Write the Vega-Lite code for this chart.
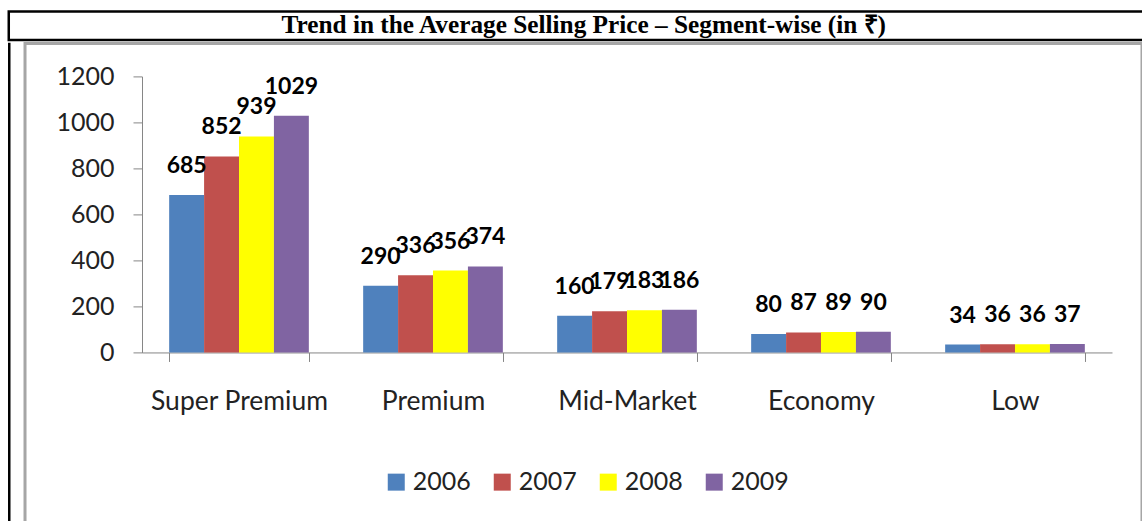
{
  "$schema": "https://vega.github.io/schema/vega-lite/v6.json",
  "padding": {"left": 6.75, "top": 9.4, "right": 0, "bottom": 0},
  "background": "white",
  "spacing": 0,
  "config": {"concat": {"spacing": 0}, "view": {"stroke": null}, "font": "Lato"},
  "vconcat": [
    {
      "width": 1150,
      "height": 28.5,
      "view": {"stroke": "black", "strokeWidth": 2.5},
      "data": {"values": [{"t": "Trend in the Average Selling Price – Segment-wise (in ₹)"}]},
      "mark": {"type": "text", "font": "Liberation Serif", "fontWeight": "bold", "fontSize": 25.3, "baseline": "alphabetic", "align": "center", "dx": 0, "dy": 7.5, "color": "black"},
      "encoding": {"text": {"field": "t", "type": "nominal"}}
    },
    {
      "spacing": 12.25,
      "hconcat": [
        {
          "width": 1,
          "height": 484,
          "view": {"stroke": "black", "strokeWidth": 1.5},
          "data": {"values": [{"t": ""}]},
          "mark": {"type": "text"},
          "encoding": {"text": {"field": "t", "type": "nominal"}}
        },
        {
          "width": 1117,
          "height": 483.25,
          "view": {"stroke": "#a6a6a6", "strokeWidth": 3},
          "data": {
            "values": [
              {"segment": "Super Premium", "year": "2006", "price": 685},
              {"segment": "Super Premium", "year": "2007", "price": 852},
              {"segment": "Super Premium", "year": "2008", "price": 939},
              {"segment": "Super Premium", "year": "2009", "price": 1029},
              {"segment": "Premium", "year": "2006", "price": 290},
              {"segment": "Premium", "year": "2007", "price": 336},
              {"segment": "Premium", "year": "2008", "price": 356},
              {"segment": "Premium", "year": "2009", "price": 374},
              {"segment": "Mid-Market", "year": "2006", "price": 160},
              {"segment": "Mid-Market", "year": "2007", "price": 179},
              {"segment": "Mid-Market", "year": "2008", "price": 183},
              {"segment": "Mid-Market", "year": "2009", "price": 186},
              {"segment": "Economy", "year": "2006", "price": 80},
              {"segment": "Economy", "year": "2007", "price": 87},
              {"segment": "Economy", "year": "2008", "price": 89},
              {"segment": "Economy", "year": "2009", "price": 90},
              {"segment": "Low", "year": "2006", "price": 34},
              {"segment": "Low", "year": "2007", "price": 36},
              {"segment": "Low", "year": "2008", "price": 36},
              {"segment": "Low", "year": "2009", "price": 37}
            ]
          },
          "encoding": {
            "x": {
              "field": "segment",
              "type": "nominal",
              "sort": ["Super Premium", "Premium", "Mid-Market", "Economy", "Low"],
              "scale": {"range": [117, 1087], "paddingInner": 0.28, "paddingOuter": 0.14},
              "axis": {
                "orient": "bottom",
                "offset": -174.2,
                "title": null,
                "labelAngle": 0,
                "domainColor": "#868686",
                "domainWidth": 1,
                "tickColor": "#868686",
                "tickSize": 9,
                "tickBand": "extent",
                "labelFont": "Lato",
                "labelFontSize": 26.5,
                "labelColor": "#222222",
                "labelPadding": 27
              }
            },
            "xOffset": {"field": "year", "type": "nominal", "scale": {"paddingInner": 0, "paddingOuter": 0}},
            "y": {
              "field": "price",
              "type": "quantitative",
              "scale": {"domain": [0, 1200], "range": [309.05, 33.05], "nice": false},
              "axis": {
                "orient": "left",
                "offset": -117,
                "title": null,
                "values": [0, 200, 400, 600, 800, 1000, 1200],
                "format": "d",
                "grid": false,
                "domainColor": "#868686",
                "tickColor": "#868686",
                "tickSize": 9,
                "labelFont": "Lato",
                "labelFontSize": 25,
                "labelColor": "#222222",
                "labelPadding": 19
              }
            }
          },
          "layer": [
            {
              "mark": {"type": "bar"},
              "encoding": {
                "color": {
                  "field": "year",
                  "type": "nominal",
                  "scale": {"domain": ["2006", "2007", "2008", "2009"], "range": ["#4F81BD", "#C0504D", "#FFFF00", "#8064A2"]},
                  "legend": {
                    "orient": "none",
                    "legendX": 375,
                    "legendY": 458,
                    "direction": "horizontal",
                    "title": null,
                    "symbolType": "square",
                    "symbolSize": 289,
                    "symbolStrokeWidth": 0,
                    "symbolOpacity": 1,
                    "labelFont": "Lato",
                    "labelFontSize": 25,
                    "labelColor": "#222222",
                    "labelOffset": 4,
                    "columnPadding": 18,
                    "padding": 0
                  }
                }
              }
            },
            {
              "mark": {"type": "text", "font": "Lato", "fontWeight": "bold", "fontSize": 23, "baseline": "alphabetic", "dy": -22, "color": "black"},
              "encoding": {"text": {"field": "price", "type": "quantitative"}}
            }
          ]
        }
      ]
    }
  ]
}
